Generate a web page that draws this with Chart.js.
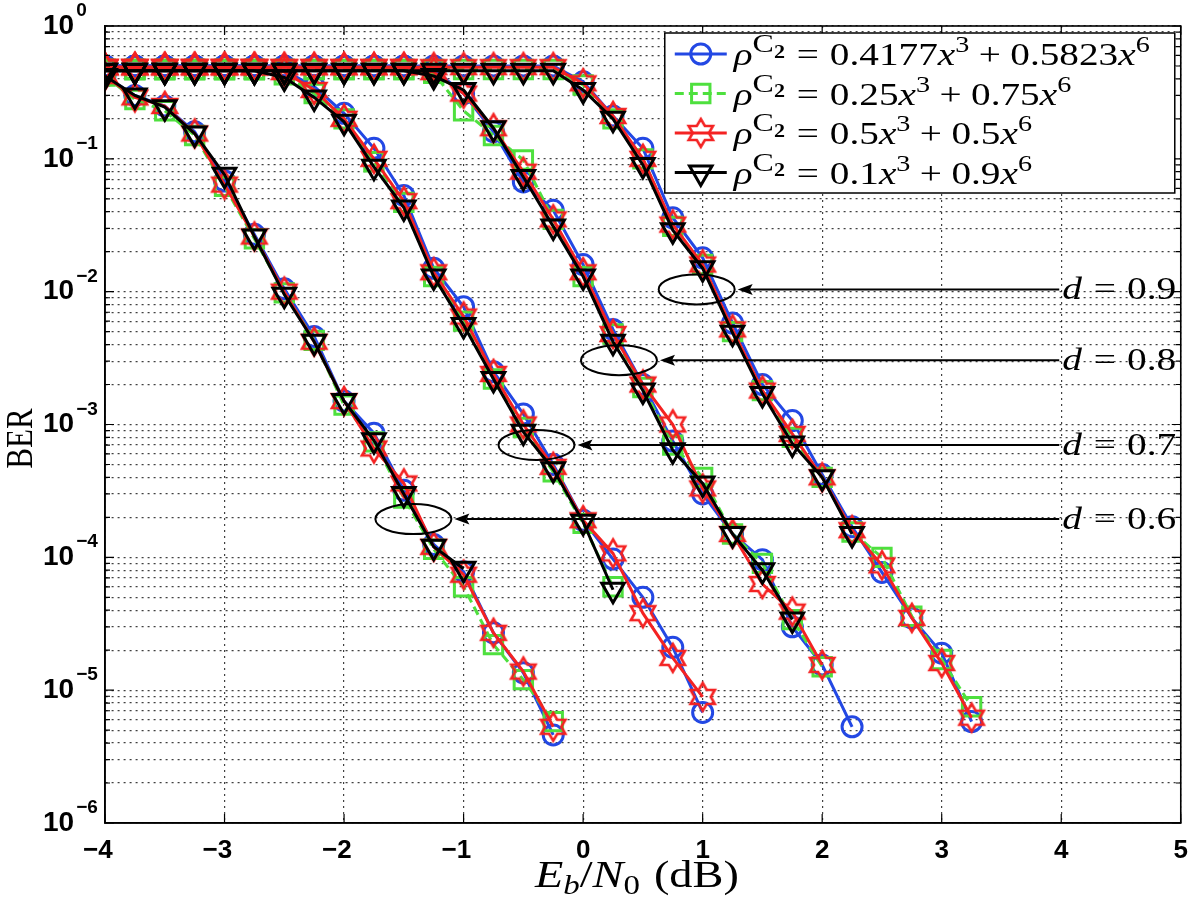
<!DOCTYPE html>
<html>
<head>
<meta charset="utf-8">
<script src="https://cdn.jsdelivr.net/npm/chart.js@4.4.4/dist/chart.umd.min.js"></script>
<style>
  html, body { margin: 0; padding: 0; background: #fff; }
  #wrap { width: 1200px; height: 901px; }
</style>
</head>
<body>
<div id="wrap"><canvas id="ber" width="1200" height="901"></canvas></div>
<script>
// ---- data ----
// Eb/N0 points in dB; every curve starts at -4 and uses the first N entries
const ebn0 = [-4, -3.75, -3.5, -3.25, -3, -2.75, -2.5, -2.25, -2, -1.75, -1.5, -1.25, -1, -0.75, -0.5, -0.25,
              0, 0.25, 0.5, 0.75, 1, 1.25, 1.5, 1.75, 2, 2.25, 2.5, 2.75, 3, 3.25];

const xTicks = [-4, -3, -2, -1, 0, 1, 2, 3, 4, 5];
const yDecades = [-6, -5, -4, -3, -2, -1, 0];
const yMinor = [1, 2, 3, 4, 5, 6, 7, 8, 9];

// legend: rho^C2 = coef3 x^3 + coef6 x^6
const coef3 = ['0.4177', '0.25', '0.5', '0.1'];
const coef6 = ['0.5823', '0.75', '0.5', '0.9'];
const dValues = ['0.6', '0.7', '0.8', '0.9'];

// d = 0.6
const ber06a = [0.42, 0.30, 0.25, 0.16, 0.068, 0.027, 0.0105, 0.0046, 0.0015, 8.6e-4, 3.2e-4, 1.25e-4, 7.8e-5, 2.7e-5, 1.35e-5, 4.6e-6];
const ber06b = [0.42, 0.28, 0.23, 0.15, 0.062, 0.025, 0.0098, 0.0043, 0.0014, 7.4e-4, 2.8e-4, 1.15e-4, 6.0e-5, 2.2e-5, 1.2e-5, 5.8e-6];
const ber06c = [0.42, 0.29, 0.25, 0.155, 0.064, 0.026, 0.0100, 0.0042, 0.0015, 6.6e-4, 3.6e-4, 1.2e-4, 7.4e-5, 2.7e-5, 1.38e-5, 5.3e-6];
const ber06d = [0.42, 0.30, 0.245, 0.155, 0.076, 0.026, 0.0095, 0.0042, 0.0015, 7.6e-4, 3.0e-4, 1.2e-4, 8.2e-5];

// d = 0.7
const ber07a = [0.5, 0.5, 0.5, 0.5, 0.5, 0.5, 0.46, 0.35, 0.22, 0.12, 0.053, 0.015, 0.0077, 0.0025, 0.0012, 5.0e-4, 1.9e-4, 9.7e-5, 5.0e-5, 2.1e-5, 6.8e-6];
const ber07b = [0.47, 0.47, 0.47, 0.47, 0.47, 0.47, 0.43, 0.31, 0.20, 0.095, 0.047, 0.013, 0.0060, 0.0022, 9.5e-4, 4.4e-4, 1.8e-4, 6.0e-5];
const ber07c = [0.49, 0.49, 0.49, 0.49, 0.49, 0.49, 0.45, 0.33, 0.20, 0.10, 0.048, 0.014, 0.0065, 0.0024, 0.0010, 4.8e-4, 1.9e-4, 1.07e-4, 3.8e-5, 1.75e-5, 8.9e-6];
const ber07d = [0.46, 0.46, 0.46, 0.46, 0.46, 0.46, 0.41, 0.29, 0.19, 0.087, 0.043, 0.013, 0.0056, 0.0022, 8.8e-4, 4.6e-4, 1.85e-4, 5.7e-5];

// d = 0.8
const ber08a = [0.5, 0.5, 0.5, 0.5, 0.5, 0.5, 0.5, 0.5, 0.5, 0.5, 0.5, 0.47, 0.31, 0.16, 0.067, 0.041, 0.016, 0.0052, 0.0020, 7.5e-4, 3.0e-4, 1.5e-4, 9.6e-5, 3.0e-5, 1.55e-5, 5.3e-6];
const ber08b = [0.47, 0.47, 0.47, 0.47, 0.47, 0.47, 0.47, 0.47, 0.47, 0.47, 0.47, 0.44, 0.23, 0.15, 0.098, 0.035, 0.013, 0.0048, 0.0019, 7.0e-4, 4.0e-4, 1.5e-4, 9.0e-5, 3.4e-5, 1.5e-5];
const ber08c = [0.49, 0.49, 0.49, 0.49, 0.49, 0.49, 0.49, 0.49, 0.49, 0.49, 0.49, 0.45, 0.31, 0.17, 0.080, 0.035, 0.014, 0.0048, 0.0020, 1.0e-3, 3.3e-4, 1.5e-4, 6.3e-5, 3.9e-5, 1.55e-5];
const ber08d = [0.46, 0.46, 0.46, 0.46, 0.46, 0.46, 0.46, 0.46, 0.46, 0.46, 0.46, 0.42, 0.33, 0.17, 0.073, 0.031, 0.013, 0.0042, 0.0018, 6.4e-4, 3.6e-4, 1.5e-4, 8.0e-5, 3.4e-5];

// d = 0.9
const ber09a = [0.5, 0.5, 0.5, 0.5, 0.5, 0.5, 0.5, 0.5, 0.5, 0.5, 0.5, 0.5, 0.5, 0.5, 0.5, 0.5, 0.38, 0.21, 0.12, 0.036, 0.018, 0.0058, 0.0020, 1.07e-3, 4.2e-4, 1.7e-4, 7.7e-5, 3.5e-5, 1.9e-5, 5.8e-6];
const ber09b = [0.47, 0.47, 0.47, 0.47, 0.47, 0.47, 0.47, 0.47, 0.47, 0.47, 0.47, 0.47, 0.47, 0.47, 0.47, 0.47, 0.36, 0.20, 0.10, 0.031, 0.016, 0.0050, 0.0018, 8.0e-4, 4.0e-4, 1.55e-4, 1.0e-4, 3.6e-5, 1.7e-5, 7.5e-6];
const ber09c = [0.49, 0.49, 0.49, 0.49, 0.49, 0.49, 0.49, 0.49, 0.49, 0.49, 0.49, 0.49, 0.49, 0.49, 0.49, 0.49, 0.37, 0.21, 0.10, 0.032, 0.016, 0.0052, 0.0018, 8.5e-4, 4.0e-4, 1.6e-4, 8.7e-5, 3.5e-5, 1.6e-5, 6.2e-6];
const ber09d = [0.46, 0.46, 0.46, 0.46, 0.46, 0.46, 0.46, 0.46, 0.46, 0.46, 0.46, 0.46, 0.46, 0.46, 0.46, 0.46, 0.33, 0.20, 0.09, 0.029, 0.015, 0.0049, 0.0017, 7.2e-4, 4.0e-4, 1.5e-4];

const groups = [
  [ber06a, ber06b, ber06c, ber06d],
  [ber07a, ber07b, ber07c, ber07d],
  [ber08a, ber08b, ber08c, ber08d],
  [ber09a, ber09b, ber09c, ber09d]
];

// callout ellipses (centre in data units), one per d group
const callouts = [
  { d: '0.6', x: -1.42, y: 1.94e-4 },
  { d: '0.7', x: -0.39, y: 7.0e-4 },
  { d: '0.8', x: 0.30, y: 3.05e-3 },
  { d: '0.9', x: 0.95, y: 1.04e-2 }
];

// ---- styles ----
const BLUE = '#2348e4', GREEN = '#4ee03e', RED = '#f42222', BLACK = '#000';
const SERIF = '"Liberation Serif", "Times New Roman", serif';
const SANS = '"Liberation Sans", Arial, sans-serif';
const STRETCH = 1.22; // the original figure is widened, text included

// MATLAB-like hexagram marker
const hexagram = (function () {
  const c = document.createElement('canvas');
  c.width = 36; c.height = 36;
  const g = c.getContext('2d');
  const R = 14, r = R / Math.sqrt(3);
  g.strokeStyle = RED;
  g.lineWidth = 2.6;
  g.beginPath();
  for (let k = 0; k < 12; k++) {
    const a = -Math.PI / 2 + k * Math.PI / 6;
    const rr = k % 2 === 0 ? R : r;
    const px = 18 + rr * Math.cos(a), py = 18 + rr * Math.sin(a);
    if (k === 0) g.moveTo(px, py); else g.lineTo(px, py);
  }
  g.closePath();
  g.stroke();
  return c;
})();

const seriesStyles = [
  { color: BLUE, pointStyle: 'circle', radius: 10, rotation: 0, dash: [], order: 4 },
  { color: GREEN, pointStyle: 'rect', radius: 13, rotation: 0, dash: [9, 5], order: 3 },
  { color: RED, pointStyle: hexagram, radius: 14, rotation: 0, dash: [], order: 2 },
  { color: BLACK, pointStyle: 'triangle', radius: 13, rotation: 180, dash: [], order: 1 }
];

const datasets = [];
groups.forEach(function (grp, gi) {
  grp.forEach(function (vals, si) {
    const st = seriesStyles[si];
    datasets.push({
      label: 'd=' + dValues[gi] + ' / ' + coef3[si] + 'x^3+' + coef6[si] + 'x^6',
      data: vals.map(function (v, i) { return { x: ebn0[i], y: v }; }),
      borderColor: st.color,
      borderWidth: 3,
      borderDash: st.dash,
      pointStyle: st.pointStyle,
      pointRadius: st.radius,
      pointRotation: st.rotation,
      pointBorderColor: st.color,
      pointBackgroundColor: 'rgba(0,0,0,0)',
      pointBorderWidth: 3,
      tension: 0,
      fill: false,
      order: st.order
    });
  });
});

// ---- math text helper: runs of text with fonts/offsets ----
function measureRuns(ctx, runs) {
  let w = 0;
  runs.forEach(function (r) {
    if (r.gap) { w += r.gap; return; }
    ctx.font = r.font;
    w += ctx.measureText(r.t).width;
  });
  return w;
}
function drawRuns(ctx, runs, x, y, k) {
  ctx.save();
  ctx.translate(x, y);
  ctx.scale(k, 1);
  let cx = 0;
  runs.forEach(function (r) {
    if (r.gap) { cx += r.gap; return; }
    ctx.font = r.font;
    ctx.fillText(r.t, cx, r.dy || 0);
    cx += ctx.measureText(r.t).width;
  });
  ctx.restore();
}

function legendRuns(i, S) {
  const fI = 'italic ' + S + 'px ' + SERIF, fR = S + 'px ' + SERIF;
  const fSup = Math.round(S * 0.72) + 'px ' + SERIF;
  const fC = Math.round(S * 0.8) + 'px ' + SERIF;
  const fSub = 'bold ' + Math.round(S * 0.55) + 'px ' + SERIF;
  return [
    { t: '\u03C1', font: fI },
    { t: 'C', font: fC, dy: -0.4 * S },
    { t: '2', font: fSub, dy: -0.22 * S },
    { gap: 0.3 * S }, { t: '=', font: fR }, { gap: 0.28 * S },
    { t: coef3[i], font: fR }, { t: 'x', font: fI }, { t: '3', font: fSup, dy: -0.4 * S },
    { gap: 0.24 * S }, { t: '+', font: fR }, { gap: 0.24 * S },
    { t: coef6[i], font: fR }, { t: 'x', font: fI }, { t: '6', font: fSup, dy: -0.4 * S }
  ];
}

function dRuns(d, S) {
  return [
    { t: 'd', font: 'italic ' + S + 'px ' + SERIF },
    { gap: 0.3 * S }, { t: '=', font: S + 'px ' + SERIF }, { gap: 0.28 * S },
    { t: d, font: S + 'px ' + SERIF }
  ];
}

const decorPlugin = {
  id: 'decor',
  afterDatasetsDraw: function (chart) {
    const ctx = chart.ctx, xs = chart.scales.x, ys = chart.scales.y;
    const textX = xs.getPixelForValue(4);
    ctx.save();
    callouts.forEach(function (c) {
      const cx = xs.getPixelForValue(c.x), cy = ys.getPixelForValue(c.y);
      const rx = 38, ry = 15;
      ctx.strokeStyle = '#000';
      ctx.lineWidth = 2;
      ctx.beginPath();
      ctx.ellipse(cx, cy, rx, ry, 0, 0, Math.PI * 2);
      ctx.stroke();
      // arrow
      const tip = cx + rx + 3;
      ctx.beginPath();
      ctx.moveTo(textX - 2, cy);
      ctx.lineTo(tip + 12, cy);
      ctx.stroke();
      ctx.fillStyle = '#000';
      ctx.beginPath();
      ctx.moveTo(tip, cy);
      ctx.lineTo(tip + 15, cy - 5.5);
      ctx.lineTo(tip + 12, cy);
      ctx.lineTo(tip + 15, cy + 5.5);
      ctx.closePath();
      ctx.fill();
      // label
      const runs = dRuns(c.d, 31);
      const k = 114 / measureRuns(ctx, runs);
      ctx.textBaseline = 'alphabetic';
      drawRuns(ctx, runs, textX + 1, cy + 10, k);
    });
    ctx.restore();
  },
  afterDraw: function (chart) {
    const ctx = chart.ctx, a = chart.chartArea, xs = chart.scales.x, ys = chart.scales.y;
    ctx.save();
    // inner tick marks
    ctx.strokeStyle = '#000';
    ctx.lineWidth = 1.2;
    ctx.beginPath();
    xTicks.forEach(function (t) {
      const px = xs.getPixelForValue(t);
      ctx.moveTo(px, a.bottom); ctx.lineTo(px, a.bottom - 9);
      ctx.moveTo(px, a.top); ctx.lineTo(px, a.top + 9);
    });
    yDecades.forEach(function (e) {
      yMinor.forEach(function (m) {
        const v = m * Math.pow(10, e);
        if (v > 1) return;
        const py = ys.getPixelForValue(v), len = m === 1 ? 9 : 5;
        ctx.moveTo(a.left, py); ctx.lineTo(a.left + len, py);
        ctx.moveTo(a.right, py); ctx.lineTo(a.right - len, py);
      });
    });
    ctx.stroke();
    // axes box
    ctx.lineWidth = 1.6;
    ctx.strokeRect(a.left, a.top, a.right - a.left, a.bottom - a.top);

    // exponents of the "10" tick labels
    ctx.fillStyle = '#000';
    ctx.textBaseline = 'alphabetic';
    ctx.textAlign = 'left';
    yDecades.forEach(function (e) {
      const py = ys.getPixelForValue(Math.pow(10, e));
      ctx.font = 'bold 28px ' + SANS;
      const w10 = ctx.measureText('10').width;
      ctx.font = 'bold 19px ' + SANS;
      ctx.fillText(e === 0 ? '0' : '\u2212' + Math.abs(e), ys.left + w10 + 2, py - 10);
    });

    // legend
    const bx = a.right - 516, by = a.top + 7, bw = 510, bh = 160;
    ctx.fillStyle = '#fff';
    ctx.fillRect(bx, by, bw, bh);
    ctx.lineWidth = 1.5;
    ctx.strokeStyle = '#000';
    ctx.strokeRect(bx, by, bw, bh);
    const S = 32;
    const lk = 416 / measureRuns(ctx, legendRuns(0, S));
    seriesStyles.forEach(function (st, i) {
      const cy = by + 21 + i * 39.5;
      ctx.save();
      ctx.strokeStyle = st.color;
      ctx.lineWidth = 3;
      ctx.setLineDash(st.dash);
      ctx.beginPath();
      ctx.moveTo(bx + 10, cy); ctx.lineTo(bx + 62, cy);
      ctx.stroke();
      ctx.setLineDash([]);
      ctx.fillStyle = 'rgba(0,0,0,0)';
      ctx.lineWidth = 3;
      Chart.helpers.drawPoint(ctx, { pointStyle: st.pointStyle, radius: st.radius, rotation: st.rotation, borderWidth: 3 }, bx + 36, cy);
      ctx.restore();
      ctx.fillStyle = '#000';
      ctx.textBaseline = 'alphabetic';
      drawRuns(ctx, legendRuns(i, S), bx + 69, cy + 11, lk);
    });

    // axis titles
    ctx.fillStyle = '#000';
    ctx.save();
    ctx.translate(22, (a.top + a.bottom) / 2 + 14);
    ctx.scale(STRETCH, 1);
    ctx.rotate(-Math.PI / 2);
    ctx.font = '31px ' + SERIF;
    ctx.textAlign = 'center';
    ctx.textBaseline = 'middle';
    ctx.fillText('BER', 0, 0);
    ctx.restore();

    const T = 38;
    const tRuns = [
      { t: 'E', font: 'italic ' + T + 'px ' + SERIF },
      { t: 'b', font: 'italic ' + Math.round(T * 0.7) + 'px ' + SERIF, dy: 0.18 * T },
      { t: '/', font: T + 'px ' + SERIF },
      { t: 'N', font: 'italic ' + T + 'px ' + SERIF },
      { t: '0', font: Math.round(T * 0.7) + 'px ' + SERIF, dy: 0.18 * T },
      { gap: 0.3 * T },
      { t: '(dB)', font: T + 'px ' + SERIF }
    ];
    const tw = measureRuns(ctx, tRuns) * STRETCH;
    ctx.textAlign = 'left';
    ctx.textBaseline = 'alphabetic';
    drawRuns(ctx, tRuns, (a.left + a.right) / 2 - 6 - tw / 2, 887, STRETCH);
    ctx.restore();
  }
};

new Chart(document.getElementById('ber'), {
  type: 'line',
  data: { datasets: datasets },
  options: {
    responsive: false,
    animation: false,
    events: [],
    layout: { padding: { left: 43, right: 11, top: 26, bottom: 0 } },
    plugins: { legend: { display: false }, tooltip: { enabled: false } },
    scales: {
      x: {
        type: 'linear',
        min: -4,
        max: 5,
        afterFit: function (s) { s.height = 78; },
        afterBuildTicks: function (s) { s.ticks = xTicks.map(function (v) { return { value: v }; }); },
        ticks: {
          padding: 12,
          color: '#000',
          font: { family: SANS, size: 26, weight: 'bold' },
          // MATLAB centres the digit, the minus hangs to the left
          callback: function (v) { return v < 0 ? '\u2212' + Math.abs(v) + '\u2007' : String(v); }
        },
        grid: { color: 'rgba(0,0,0,0.75)', lineWidth: 1.2, drawTicks: false },
        border: { display: true, color: '#000', width: 1.6, dash: [2, 4] }
      },
      y: {
        type: 'logarithmic',
        min: 1e-6,
        max: 1,
        afterFit: function (s) { s.width = 62; },
        afterBuildTicks: function (s) {
          const t = [];
          yDecades.forEach(function (e) {
            yMinor.forEach(function (m) {
              const v = m * Math.pow(10, e);
              if (v <= 1) t.push({ value: v, major: m === 1 });
            });
          });
          s.ticks = t;
        },
        ticks: {
          autoSkip: false,
          crossAlign: 'far',
          padding: 4,
          color: '#000',
          font: { family: SANS, size: 28, weight: 'bold' },
          callback: function (v) {
            const e = Math.log10(v);
            return Math.abs(e - Math.round(e)) < 1e-9 ? '10' : '';
          }
        },
        grid: { color: 'rgba(0,0,0,0.75)', lineWidth: 1.2, drawTicks: false },
        border: { display: true, color: '#000', width: 1.6, dash: [2, 4] }
      }
    }
  },
  plugins: [decorPlugin]
});
</script>
</body>
</html>
